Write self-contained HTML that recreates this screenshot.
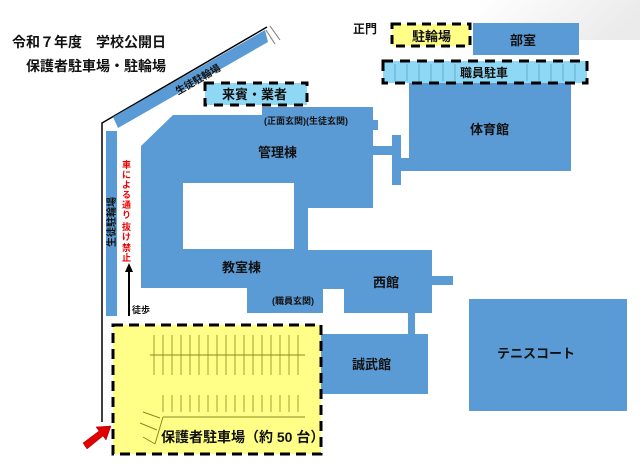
<!DOCTYPE html>
<html><head><meta charset="utf-8"><style>
html,body{margin:0;padding:0;background:#fff;}
svg{display:block;}
text{font-family:"Liberation Sans","Noto Sans CJK JP",sans-serif;font-weight:bold;fill:#111;}
.r{fill:#e00;}
</style></head><body>
<svg width="640" height="474" viewBox="0 0 640 474" xmlns="http://www.w3.org/2000/svg">
<defs><linearGradient id="g" x1="0" y1="0" x2="1" y2="0.3"><stop offset="0" stop-color="#fff"/><stop offset="1" stop-color="#e6e6e6"/></linearGradient></defs>
<rect x="480" y="0" width="160" height="40" fill="url(#g)" opacity="0.8"/>
<text x="12" y="47" font-size="14">令和７年度　学校公開日</text>
<text x="26" y="71" font-size="14">保護者駐車場・駐輪場</text>

<line x1="270" y1="26" x2="280" y2="40" stroke="#777" stroke-width="1"/>
<line x1="266" y1="30" x2="275" y2="44" stroke="#777" stroke-width="1"/>
<polyline points="267,27 102,123 102,422" fill="none" stroke="#000" stroke-width="1.5"/>
<polygon points="113,117 265,30 268,42 118,128" fill="#5b9bd5"/>
<text font-size="10" transform="translate(178,95) rotate(-30)">生徒駐輪場</text>
<rect x="106" y="131" width="11" height="185" fill="#5b9bd5"/>
<text font-size="10" transform="translate(115,247) rotate(-90)">生徒駐輪場</text>
<g font-size="9">
<text class="r" x="122" y="168">車</text><text class="r" x="122" y="178">に</text><text class="r" x="122" y="188">よ</text><text class="r" x="122" y="198">る</text><text class="r" x="122" y="208">通</text><text class="r" x="122" y="218">り</text><text class="r" x="122" y="230">抜</text><text class="r" x="122" y="240">け</text><text class="r" x="122" y="251">禁</text><text class="r" x="122" y="261">止</text>
</g>
<line x1="129" y1="316" x2="129" y2="270" stroke="#000" stroke-width="2"/>
<polygon points="129,263 125,272 133,272" fill="#000"/>
<text x="132" y="313" font-size="9">徒歩</text>

<polygon points="173,115 262,115 262,107 373,107 373,120 378,120 378,130 373,130 373,208 308,208 308,250 432,250 432,313 344,313 344,289 323,289 323,313 247,313 247,288 141,288 141,146" fill="#5b9bd5"/>
<rect x="183" y="183" width="111" height="66" fill="#fff"/>
<rect x="373" y="146" width="20" height="9" fill="#5b9bd5"/>
<rect x="392" y="135" width="9" height="50" fill="#5b9bd5"/>
<rect x="432" y="276" width="21" height="9" fill="#5b9bd5"/>
<rect x="408" y="313" width="7" height="22" fill="#5b9bd5"/>
<text x="264" y="124" font-size="9">(正面玄関)(生徒玄関)</text>
<text x="258" y="157" font-size="13">管理棟</text>
<text x="222" y="272" font-size="13">教室棟</text>
<text x="373" y="287" font-size="13">西館</text>
<text x="272" y="304" font-size="9">(職員玄関)</text>

<rect x="409" y="83" width="162" height="88" fill="#5b9bd5"/>
<rect x="401" y="158" width="10" height="13" fill="#5b9bd5"/>
<text x="470" y="134" font-size="13">体育館</text>
<rect x="473" y="23" width="106" height="32" fill="#5b9bd5"/>
<text x="510" y="45" font-size="13">部室</text>
<rect x="392" y="24" width="78" height="22" fill="#ffff88" stroke="#000" stroke-width="3" stroke-dasharray="9,6"/>
<text x="412" y="41" font-size="13">駐輪場</text>
<text x="353" y="33" font-size="12">正門</text>
<rect x="383" y="61" width="204" height="22" fill="#8ed8f5" stroke="#000" stroke-width="3" stroke-dasharray="10,7"/>
<g stroke="#4a90b8" stroke-width="0.6">
<line x1="395" y1="64" x2="395" y2="81"/><line x1="407" y1="64" x2="407" y2="81"/><line x1="419" y1="64" x2="419" y2="81"/><line x1="431" y1="64" x2="431" y2="81"/><line x1="443" y1="64" x2="443" y2="81"/><line x1="455" y1="64" x2="455" y2="81"/><line x1="527" y1="64" x2="527" y2="81"/><line x1="539" y1="64" x2="539" y2="81"/><line x1="551" y1="64" x2="551" y2="81"/><line x1="563" y1="64" x2="563" y2="81"/><line x1="575" y1="64" x2="575" y2="81"/>
</g>
<text x="460" y="77" font-size="12">職員駐車</text>
<rect x="205" y="83" width="102" height="22" fill="#8ed8f5" stroke="#000" stroke-width="3" stroke-dasharray="9,7"/>
<text x="222" y="99" font-size="13">来賓・業者</text>

<rect x="320" y="334" width="108" height="60" fill="#5b9bd5"/>
<text x="352" y="369" font-size="13">誠武館</text>
<rect x="469" y="299" width="158" height="112" fill="#5b9bd5"/>
<text x="497" y="358" font-size="13">テニスコート</text>

<rect x="113" y="325" width="208" height="129" fill="#ffff88" stroke="#000" stroke-width="3" stroke-dasharray="10,6"/>
<g stroke="#8a8a20" stroke-width="1">
<line x1="150" y1="355" x2="305" y2="355"/>
<line x1="163" y1="417" x2="305" y2="417"/>
<line x1="163" y1="417" x2="155" y2="444"/>
<line x1="143" y1="437" x2="155" y2="444"/>
<line x1="140" y1="423" x2="157" y2="430"/>
<line x1="143" y1="412" x2="160" y2="418"/>
</g>
<g stroke="#8a8a20" stroke-width="0.8">
<line x1="154" y1="335" x2="154" y2="375"/><line x1="163" y1="335" x2="163" y2="375"/><line x1="172" y1="335" x2="172" y2="375"/><line x1="181" y1="335" x2="181" y2="375"/><line x1="190" y1="335" x2="190" y2="375"/><line x1="199" y1="335" x2="199" y2="375"/><line x1="208" y1="335" x2="208" y2="375"/><line x1="217" y1="335" x2="217" y2="375"/><line x1="226" y1="335" x2="226" y2="375"/><line x1="235" y1="335" x2="235" y2="375"/><line x1="244" y1="335" x2="244" y2="375"/><line x1="253" y1="335" x2="253" y2="375"/><line x1="262" y1="335" x2="262" y2="375"/><line x1="271" y1="335" x2="271" y2="375"/><line x1="280" y1="335" x2="280" y2="375"/><line x1="289" y1="335" x2="289" y2="375"/><line x1="298" y1="335" x2="298" y2="375"/>
<line x1="163" y1="395" x2="163" y2="412"/><line x1="172" y1="395" x2="172" y2="412"/><line x1="181" y1="395" x2="181" y2="412"/><line x1="190" y1="395" x2="190" y2="412"/><line x1="199" y1="395" x2="199" y2="412"/><line x1="208" y1="395" x2="208" y2="412"/><line x1="217" y1="395" x2="217" y2="412"/><line x1="226" y1="395" x2="226" y2="412"/><line x1="235" y1="395" x2="235" y2="412"/><line x1="244" y1="395" x2="244" y2="412"/><line x1="253" y1="395" x2="253" y2="412"/><line x1="262" y1="395" x2="262" y2="412"/><line x1="271" y1="395" x2="271" y2="412"/><line x1="280" y1="395" x2="280" y2="412"/><line x1="289" y1="395" x2="289" y2="412"/><line x1="298" y1="395" x2="298" y2="412"/>
</g>
<text x="161" y="442" font-size="14">保護者駐車場（約 50 台）</text>
<polygon points="83,443 99,431 96,427 111,426 106,440 103,436 87,449" fill="#e00000" stroke="#900" stroke-width="0.5"/>
</svg>
</body></html>
